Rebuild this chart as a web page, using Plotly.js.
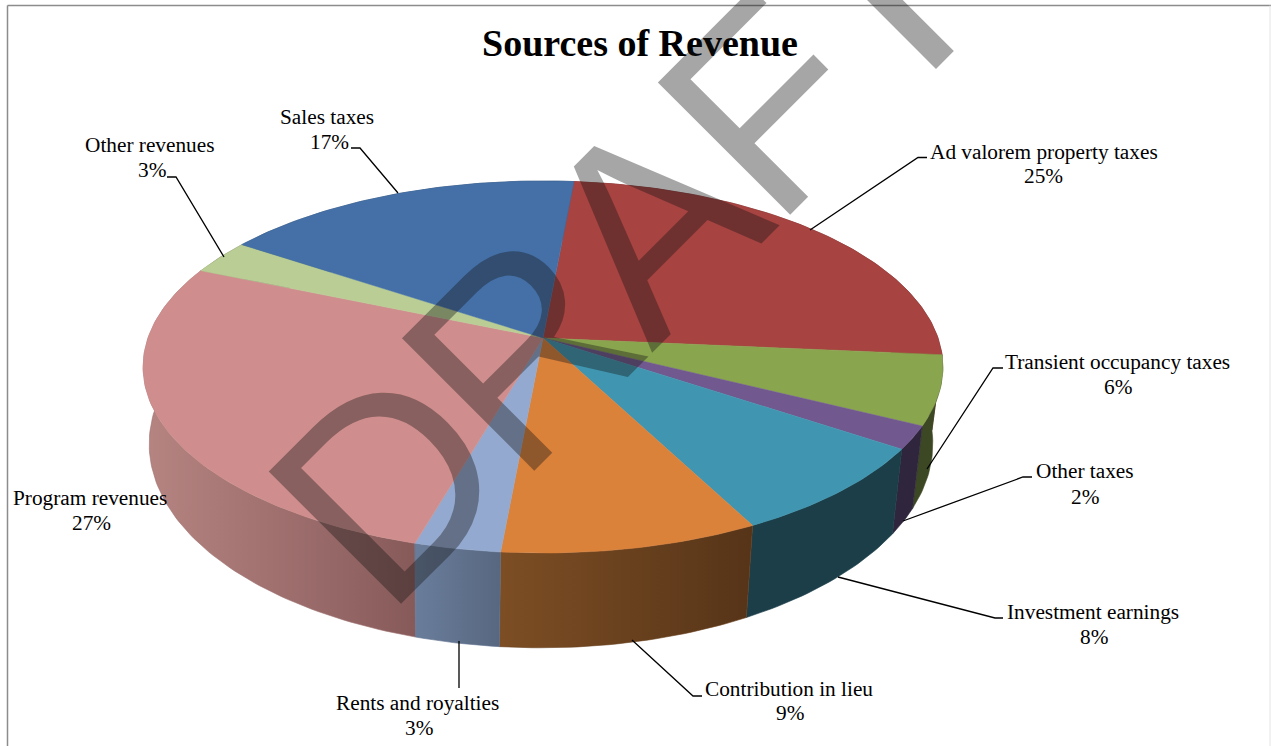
<!DOCTYPE html>
<html>
<head>
<meta charset="utf-8">
<script src="https://cdn.plot.ly/plotly-3.0.1.min.js"></script>
<style>html,body{margin:0;padding:0;background:#fff}#chart{width:1271px;height:746px}</style>
</head>
<body>
<div id="chart"></div>
<script>
// Revenue categories and their percentage shares, clockwise from the top of the pie.
const categories = ["Ad valorem property taxes", "Transient occupancy taxes", "Other taxes",
  "Investment earnings", "Contribution in lieu", "Rents and royalties",
  "Program revenues", "Other revenues", "Sales taxes"];
const shares = [25, 6, 2, 8, 9, 3, 27, 3, 17];

// Slice colours: lid, then the wall's left-to-right shading.
const lidColors = ["#A74341", "#89A54E", "#71588F", "#4096B0", "#DA813A", "#93A9CF", "#CF8E8D", "#B9CD94", "#4470A7"];
const wallLeft  = ["#6b2b2a", "#3c4823", "#2f263e", "#1b3e49", "#7d4e24", "#697d9b", "#b68582", "#76835f", "#2c486b"];
const wallRight = ["#6b2b2a", "#3c4823", "#2f263e", "#1b3e49", "#563418", "#586780", "#875a5a", "#76835f", "#2c486b"];
const wallEdge  = ["#6b2b2a", "#3c4823", "#2f263e", "#1b3e49", "#6a4120", "#60728e", "#9e706e", "#76835f", "#2c486b"];

// Perspective discs for the lid and the base of the drum.
const lid  = {cx: 543, cy: 338, rx: 395, ry: 181.5, k: 0.156};
const base = {cx: 541, cy: 412, rx: 387, ry: 199,   k: 0.156};
const startAngle = 84.8;  // degrees, counter-clockwise from the +x direction

function rim(disc, deg) {
  const t = deg * Math.PI / 180, s = Math.sin(t), c = Math.cos(t), w = 1 + disc.k * s;
  return [disc.cx + disc.rx * c / w, disc.cy - disc.ry * s / w];
}
function arc(disc, from, to) {
  const n = Math.max(2, Math.ceil(Math.abs(to - from))), pts = [];
  for (let i = 0; i <= n; i++) pts.push(rim(disc, from + (to - from) * i / n));
  return pts;
}

// Angular extent of every slice, derived from its share.
const total = shares.reduce((a, b) => a + b, 0);
let running = startAngle;
const spans = shares.map(v => {
  const from = running, to = running - v / total * 360;
  running = to;
  return {from, to};
});

const poly = (pts, extra) => Object.assign({
  x: pts.map(p => p[0]), y: pts.map(p => p[1]),
  type: "scatter", mode: "lines", fill: "toself", hoverinfo: "skip"
}, extra);

// Walls go first, farthest slice first, so nearer ones paint over them.
const wallOrder = spans.map((sp, i) => i)
  .sort((a, b) => Math.sin((spans[b].from + spans[b].to) / 360 * Math.PI) - Math.sin((spans[a].from + spans[a].to) / 360 * Math.PI));
const wallTraces = wallOrder.map(i => {
  const pts = arc(lid, spans[i].from, spans[i].to).concat(arc(base, spans[i].to, spans[i].from));
  pts.push(pts[0]);
  return poly(pts, {
    name: categories[i] + " wall",
    line: {color: wallEdge[i], width: 0.6},
    fillgradient: {type: "horizontal", colorscale: [[0, wallLeft[i]], [1, wallRight[i]]]}
  });
});
const lidTraces = spans.map((sp, i) => poly(
  [[lid.cx, lid.cy]].concat(arc(lid, sp.from, sp.to)).concat([[lid.cx, lid.cy]]),
  {name: categories[i], line: {color: lidColors[i], width: 0.5}, fillcolor: lidColors[i]}
));

// Callouts: centres and baselines of both text lines, and the polyline tying them to a slice.
const callouts = [
  {x: 1043.5, y1: 152, px: 1043.5, y2: 176, path: [[927,157.5],[918,157.5],[810,230]]},
  {x: 1117,   y1: 362, px: 1118,   y2: 387, path: [[1003,368],[993,368],[927,469]]},
  {x: 1084.5, y1: 471, px: 1085,   y2: 497, path: [[1032,477],[1023,477],[903,521]]},
  {x: 1093,   y1: 612, px: 1094,   y2: 637, path: [[1003,618],[995,618],[838,577]]},
  {x: 789,    y1: 689, px: 790,    y2: 713, path: [[702,696],[693,696],[632,640]]},
  {x: 417,    y1: 703, px: 419,    y2: 728, path: [[459,641],[459,688]]},
  {x: 89.5,   y1: 498, px: 91,     y2: 523, path: null},
  {x: 150,    y1: 145, px: 152,    y2: 170, path: [[167,177],[176,177],[224,257]]},
  {x: 327,    y1: 117, px: 329.5,  y2: 142, path: [[351,148],[360,148],[398,193]]}
];
const leaderTraces = callouts.filter(c => c.path).map(c => ({
  x: c.path.map(p => p[0]), y: c.path.map(p => p[1]),
  type: "scatter", mode: "lines", hoverinfo: "skip",
  line: {color: "#000", width: 1.3}
}));

const serif = "'Liberation Serif','Times New Roman',serif";
const labelFont = {family: serif, size: 21.3, color: "#000"};
const textNote = (x, y, text) => ({
  x, y, xref: "x", yref: "y", showarrow: false, xanchor: "center", yanchor: "middle", align: "center",
  text, font: labelFont
});
const labelNotes = callouts.flatMap((c, i) => [
  textNote(c.x, c.y1, categories[i]),
  textNote(c.px, c.y2, shares[i] + "%")
]);
const titleNote = {
  x: 640, y: 43, xref: "x", yref: "y", showarrow: false, xanchor: "center", yanchor: "middle",
  text: "<b>Sources of Revenue</b>", font: {family: serif, size: 38, color: "#000"}
};
// Diagonal stamp across the whole sheet.
const stampNote = {
  x: 625, y: 247, xref: "x", yref: "y", showarrow: false, xanchor: "center", yanchor: "middle",
  textangle: -45, text: "DRAFT",
  font: {family: "'Liberation Sans',Arial,sans-serif", size: 272, color: "rgba(20,20,20,0.38)"}
};
const notes = [titleNote].concat(labelNotes, [stampNote]);

Plotly.newPlot("chart", wallTraces.concat(lidTraces, leaderTraces), {
  width: 1271, height: 746, autosize: false, showlegend: false,
  margin: {l: 0, r: 0, t: 0, b: 0},
  paper_bgcolor: "#fff", plot_bgcolor: "#fff",
  xaxis: {range: [0, 1271], visible: false, fixedrange: true},
  yaxis: {range: [746, 0], visible: false, fixedrange: true},
  annotations: notes,
  shapes: [
    {type: "line", xref: "x", yref: "y", x0: 7.5, x1: 1271, y0: 5.5, y1: 5.5, line: {color: "#8c8c8c", width: 1.5}},
    {type: "line", xref: "x", yref: "y", x0: 7.5, x1: 7.5, y0: 5.5, y1: 746, line: {color: "#8c8c8c", width: 1.5}},
    {type: "line", xref: "x", yref: "y", x0: 1270, x1: 1270, y0: 5.5, y1: 746, line: {color: "#e4e4e4", width: 1}}
  ]
}, {displayModeBar: false, staticPlot: true}).then(gd => {
  // Tighten the stamp's letters so the taller glyphs keep their run length.
  const stamp = gd.querySelector('.annotation[data-index="' + (notes.length - 1) + '"] text');
  if (stamp) stamp.style.letterSpacing = "-8px";
});
</script>
</body>
</html>
